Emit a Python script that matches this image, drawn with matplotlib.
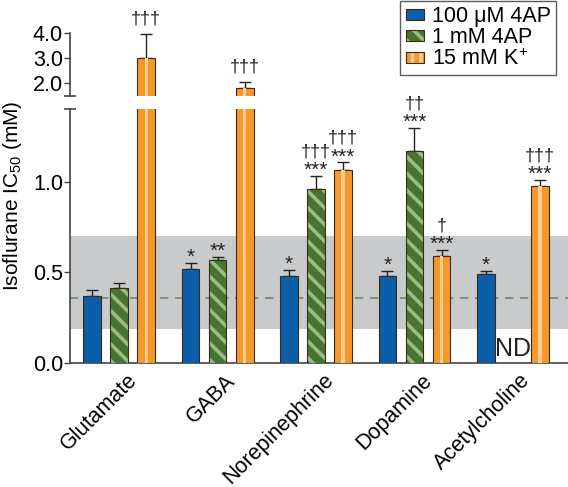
import numpy as np
import matplotlib
matplotlib.use("Agg")
import matplotlib.pyplot as plt
from matplotlib.patches import Patch
from matplotlib.transforms import ScaledTranslation

plt.rcParams['font.family'] = ['Liberation Sans', 'DejaVu Sans']
plt.rcParams['mathtext.fontset'] = 'custom'
plt.rcParams['mathtext.rm'] = 'Liberation Sans'
plt.rcParams['mathtext.it'] = 'Liberation Sans'
plt.rcParams['hatch.linewidth'] = 2.6

# data
categories = ['Glutamate', 'GABA', 'Norepinephrine', 'Dopamine', 'Acetylcholine']
series = ['100 \u03bcM 4AP', '1 mM 4AP', '15 mM K$^{+}$']
blue_val = [0.37, 0.517, 0.482, 0.481, 0.488]
blue_err = [0.03, 0.033, 0.032, 0.027, 0.02]
green_val = [0.415, 0.567, 0.959, 1.171, np.nan]
green_err = [0.028, 0.02, 0.074, 0.123, np.nan]
orange_val = [3.0, 1.81, 1.062, 0.589, 0.978]
orange_err = [0.95, 0.24, 0.044, 0.033, 0.033]
stars = [['', '*', '*', '*', '*'],
         ['', '**', '***', '***', ''],
         ['', '', '***', '***', '***']]
daggers = [['', '', '', '', ''],
           ['', '', '\u2020\u2020\u2020', '\u2020\u2020', ''],
           ['\u2020\u2020\u2020', '\u2020\u2020\u2020', '\u2020\u2020\u2020', '\u2020', '\u2020\u2020\u2020']]
band_lo, band_hi = 0.186, 0.698
control_mean = 0.36

blue = '#0b5ea8'
green = '#46752f'
green_lt = '#9dbb86'
orange = '#f5982a'
orange_lt = '#fcca8c'
edge = '#3a2a1a'
spine_c = '#444444'
txt_c = '#222222'

vals = [blue_val, green_val, orange_val]
errs = [blue_err, green_err, orange_err]
offsets = [-0.275, 0.0, 0.275]
width = 0.18
x = np.arange(len(categories))

W, H = 568, 487
fig = plt.figure(figsize=(W / 100, H / 100), dpi=100)
left = 70 / W
axw = 1 - left
ax = fig.add_axes([left, (H - 363) / H, axw, (363 - 109) / H])
axt = fig.add_axes([left, (H - 96) / H, axw, (96 - 33) / H])

for a in (ax, axt):
    for i in range(3):
        v = np.array(vals[i], dtype=float)
        e = np.array(errs[i], dtype=float)
        m = ~np.isnan(v)
        xs = x[m] + offsets[i]
        if i == 1:
            a.bar(xs, v[m], width, color=green, edgecolor=green_lt, hatch='\\\\',
                  linewidth=0, zorder=3)
            a.bar(xs, v[m], width, fill=False, edgecolor=edge, linewidth=0.8, zorder=4)
        else:
            fc = blue if i == 0 else orange
            a.bar(xs, v[m], width, color=fc, edgecolor=edge, linewidth=0.8, zorder=3)
            if i == 2:
                a.bar(xs, v[m], width * 0.2, color=orange_lt, linewidth=0, zorder=4)
        a.errorbar(xs, v[m], yerr=[np.zeros(m.sum()), e[m]], fmt='none', ecolor=txt_c,
                   elinewidth=1.0, capsize=4, capthick=1.0, zorder=2)
    a.set_xlim(-0.5, 4.56)
    for s in ('top', 'right'):
        a.spines[s].set_visible(False)
    a.spines['left'].set_color(spine_c)
    a.spines['left'].set_linewidth(1.2)
    a.tick_params(axis='y', direction='out', length=4, width=1.0, color=spine_c,
                  labelsize=15.5, pad=1)

ax.set_ylim(0, 1.40)
axt.set_ylim(1.5, 4.0)
ax.axhspan(band_lo, band_hi, color='#c9cacc', lw=0, zorder=0)
ax.axhline(control_mean, color='#6b8f5a', lw=1.2, dashes=(5, 4), zorder=1)

ax.spines['bottom'].set_color(spine_c)
ax.spines['bottom'].set_linewidth(1.2)
ax.set_yticks([0, 0.5, 1.0])
ax.set_yticklabels(['0.0', '0.5', '1.0'])
axt.set_yticks([2, 3, 4])
axt.set_yticklabels(['2.0', '3.0', '4.0'])
axt.spines['bottom'].set_visible(False)
axt.set_xticks([])
ax.set_xticks(x)
ax.set_xticklabels(categories, rotation=45, ha='right', rotation_mode='anchor', fontsize=15.5)
ax.tick_params(axis='x', length=0, pad=5)
shift = ScaledTranslation(7 / 100, 0, fig.dpi_scale_trans)
for lab in ax.get_xticklabels():
    lab.set_transform(lab.get_transform() + shift)

# break caps
ax.plot([0], [1], marker='_', ms=8, mew=1.2, color=spine_c, transform=ax.transAxes, clip_on=False)
axt.plot([0], [0], marker='_', ms=8, mew=1.2, color=spine_c, transform=axt.transAxes, clip_on=False)

# significance marks
for i in range(3):
    for j in range(len(categories)):
        v = vals[i][j]
        if np.isnan(v):
            continue
        top = v + errs[i][j]
        a = axt if top > 1.40 else ax
        xp = x[j] + offsets[i]
        if stars[i][j]:
            a.annotate(stars[i][j], (xp, top), xytext=(0, 0), textcoords='offset points',
                       ha='center', va='baseline', fontsize=15, color=txt_c, clip_on=False)
        if daggers[i][j]:
            off = 14 if stars[i][j] else 8
            a.annotate(daggers[i][j], (xp, top), xytext=(0, off), textcoords='offset points',
                       ha='center', va='baseline', fontsize=13, color=txt_c, clip_on=False)

ax.text(x[4] + offsets[1], 0.01, 'ND', ha='center', va='bottom', fontsize=18, color=txt_c)

fig.text(0.022, 1 - 196 / H, 'Isoflurane IC$_{50}$ (mM)', rotation=90, ha='center',
         va='center', fontsize=15)

handles = [
    Patch(facecolor=blue, edgecolor=edge, linewidth=0.8),
    (Patch(facecolor=green, edgecolor=green_lt, hatch='\\\\', linewidth=0),
     Patch(fill=False, edgecolor=edge, linewidth=0.8)),
    (Patch(facecolor=orange, edgecolor=orange_lt, hatch='||', linewidth=0),
     Patch(fill=False, edgecolor=edge, linewidth=0.8)),
]
leg = fig.legend(handles, series, loc='upper right', bbox_to_anchor=(556 / W, 1 - 1 / H),
                 fontsize=15.5, frameon=True, fancybox=False, edgecolor='#333333',
                 borderaxespad=0, handlelength=0.85, handleheight=0.4, handletextpad=0.35,
                 labelspacing=0.0, borderpad=0.25)
leg.get_frame().set_linewidth(1.0)

fig.savefig('out.png', dpi=100)
